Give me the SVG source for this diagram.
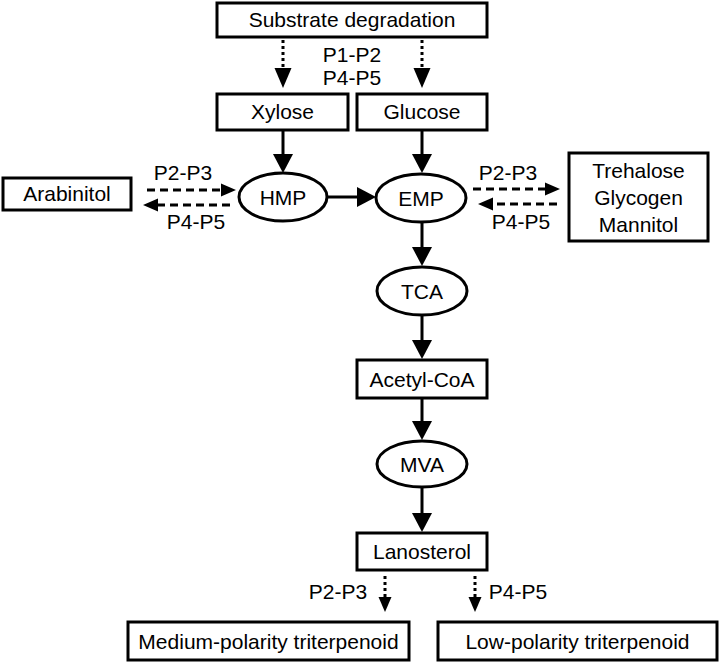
<svg xmlns="http://www.w3.org/2000/svg" width="720" height="662" viewBox="0 0 720 662">
<style>
.box{fill:#fff;stroke:#000;stroke-width:3}
.ell{fill:#fff;stroke:#000;stroke-width:3}
text{font-family:"Liberation Sans",Arial,sans-serif;font-size:21px;fill:#000;text-anchor:middle}
.solid{stroke:#000;stroke-width:3;fill:none}
.dot{stroke:#000;stroke-width:3;fill:none;stroke-dasharray:3 3}
.dash{stroke:#000;stroke-width:3;fill:none;stroke-dasharray:8 5}
</style>
<defs>
<marker id="big" markerUnits="userSpaceOnUse" markerWidth="20" markerHeight="20" refX="1" refY="10" orient="auto" overflow="visible">
<path d="M0,0 L19,10 L0,20 Z" fill="#000"/>
</marker>
<marker id="med" markerUnits="userSpaceOnUse" markerWidth="20" markerHeight="18" refX="1" refY="8.5" orient="auto" overflow="visible">
<path d="M0,0 L20,8.5 L0,17 Z" fill="#000"/>
</marker>
<marker id="small" markerUnits="userSpaceOnUse" markerWidth="16" markerHeight="13" refX="1" refY="6.5" orient="auto" overflow="visible">
<path d="M0,0 L15,6.5 L0,13 Z" fill="#000"/>
</marker>
</defs>

<g id="connectors">
<line class="dot" x1="283" y1="40" x2="283" y2="69" marker-end="url(#med)"/>
<line class="dot" x1="422" y1="40" x2="422" y2="69" marker-end="url(#med)"/>
<line class="solid" x1="283" y1="131" x2="283" y2="155" marker-end="url(#big)"/>
<line class="solid" x1="422" y1="131" x2="422" y2="155" marker-end="url(#big)"/>
<line class="solid" x1="328" y1="197" x2="358" y2="197" marker-end="url(#big)"/>
<line class="solid" x1="422" y1="222" x2="422" y2="248" marker-end="url(#big)"/>
<line class="solid" x1="422" y1="316" x2="422" y2="341" marker-end="url(#big)"/>
<line class="solid" x1="422" y1="399" x2="422" y2="422" marker-end="url(#big)"/>
<line class="solid" x1="422" y1="488" x2="422" y2="514" marker-end="url(#big)"/>
<line class="dash" x1="147" y1="190" x2="222" y2="190" marker-end="url(#small)"/>
<line class="dash" x1="230" y1="205" x2="157" y2="205" marker-end="url(#small)"/>
<line class="dash" x1="473" y1="189" x2="546" y2="189" marker-end="url(#small)"/>
<line class="dash" x1="557" y1="204" x2="492" y2="204" marker-end="url(#small)"/>
<line class="dot" x1="385" y1="576" x2="385" y2="598" marker-end="url(#small)"/>
<line class="dot" x1="475" y1="576" x2="475" y2="598" marker-end="url(#small)"/>
<text x="352" y="62">P1-P2</text>
<text x="352" y="85">P4-P5</text>
<text x="183" y="180">P2-P3</text>
<text x="196" y="229">P4-P5</text>
<text x="508" y="180">P2-P3</text>
<text x="521" y="229">P4-P5</text>
<text x="338" y="599">P2-P3</text>
<text x="518" y="599">P4-P5</text>
</g>

<g id="substrate"><rect class="box" x="217" y="3" width="270" height="34"/><text x="352" y="27">Substrate degradation</text></g>
<g id="xylose"><rect class="box" x="217" y="94" width="131" height="36"/><text x="282.5" y="119">Xylose</text></g>
<g id="glucose"><rect class="box" x="357" y="94" width="130" height="36"/><text x="422" y="119">Glucose</text></g>
<g id="arabinitol"><rect class="box" x="3" y="178" width="128" height="32"/><text x="67" y="201">Arabinitol</text></g>
<g id="hmp"><ellipse class="ell" cx="283" cy="197" rx="44" ry="24"/><text x="283" y="204.5">HMP</text></g>
<g id="emp"><ellipse class="ell" cx="421" cy="198" rx="45" ry="24"/><text x="421" y="205.5">EMP</text></g>
<g id="storage"><rect class="box" x="569" y="153" width="139" height="88"/><text x="638.5" y="177.5">Trehalose</text><text x="638.5" y="204.5">Glycogen</text><text x="638.5" y="231.5">Mannitol</text></g>
<g id="tca"><ellipse class="ell" cx="422" cy="291" rx="45" ry="24"/><text x="422" y="298.5">TCA</text></g>
<g id="acetylcoa"><rect class="box" x="357" y="360" width="130" height="38"/><text x="422" y="386.5">Acetyl-CoA</text></g>
<g id="mva"><ellipse class="ell" cx="422" cy="464" rx="45" ry="23"/><text x="422" y="471.5">MVA</text></g>
<g id="lanosterol"><rect class="box" x="357" y="533" width="130" height="37"/><text x="422" y="559">Lanosterol</text></g>
<g id="medium"><rect class="box" x="128" y="622" width="281" height="38"/><text x="268.5" y="648.5">Medium-polarity triterpenoid</text></g>
<g id="low"><rect class="box" x="438" y="622" width="279" height="38"/><text x="577.5" y="648.5">Low-polarity triterpenoid</text></g>
</svg>
